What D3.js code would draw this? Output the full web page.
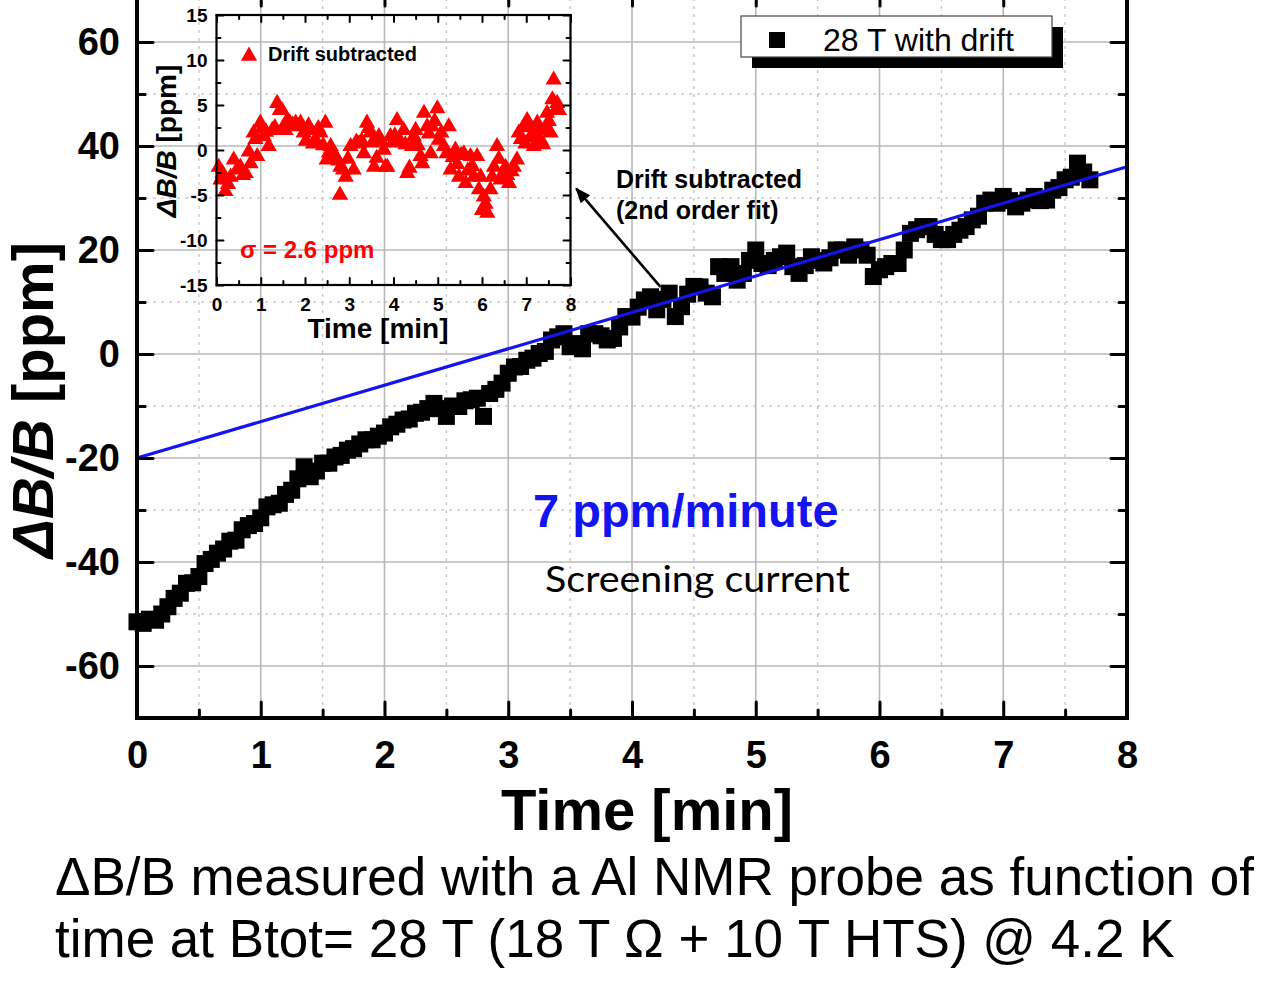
<!DOCTYPE html>
<html>
<head>
<meta charset="utf-8">
<script src="https://cdn.jsdelivr.net/npm/d3@7"></script>
<style>
  body { margin: 0; background: #fff; }
  svg { display: block; font-family: "Liberation Sans", Arial, sans-serif; }
</style>
</head>
<body>
<div id="chart"></div>
<script>
// main series: 28 T with drift
const timeMin = [
  0.00, 0.05, 0.10, 0.15, 0.20, 0.25, 0.30, 0.35, 0.40, 0.45, 0.50, 0.55, 0.60, 0.65, 0.70, 0.75, 0.80, 0.85, 0.90, 0.95,
  1.00, 1.05, 1.10, 1.15, 1.20, 1.25, 1.30, 1.35, 1.40, 1.45, 1.50, 1.55, 1.60, 1.65, 1.70, 1.75, 1.80, 1.85, 1.90, 1.95,
  2.00, 2.05, 2.10, 2.15, 2.20, 2.25, 2.30, 2.35, 2.40, 2.45, 2.50, 2.55, 2.60, 2.65, 2.70, 2.75, 2.80, 2.85, 2.90, 2.95,
  3.00, 3.05, 3.10, 3.15, 3.20, 3.25, 3.30, 3.35, 3.40, 3.45, 3.50, 3.55, 3.60, 3.65, 3.70, 3.75, 3.80, 3.85, 3.90, 3.95,
  4.00, 4.05, 4.10, 4.15, 4.20, 4.25, 4.30, 4.35, 4.40, 4.45, 4.50, 4.55, 4.60, 4.65, 4.70, 4.75, 4.80, 4.85, 4.90, 4.95,
  5.00, 5.05, 5.10, 5.15, 5.20, 5.25, 5.30, 5.35, 5.40, 5.45, 5.50, 5.55, 5.60, 5.65, 5.70, 5.75, 5.80, 5.85, 5.90, 5.95,
  6.00, 6.05, 6.10, 6.15, 6.20, 6.25, 6.30, 6.35, 6.40, 6.45, 6.50, 6.55, 6.60, 6.65, 6.70, 6.75, 6.80, 6.85, 6.90, 6.95,
  7.00, 7.05, 7.10, 7.15, 7.20, 7.25, 7.30, 7.35, 7.40, 7.45, 7.50, 7.55, 7.60, 7.65, 7.70
];
const withDrift = [
  -51.5, -51.8, -51.0, -51.2, -50.0, -48.6, -47.0, -46.0, -44.1, -44.0, -42.8, -40.3, -39.5, -38.3, -37.5, -36.0, -35.8, -33.8, -33.0, -32.6,
  -31.5, -29.4, -29.0, -28.7, -27.0, -26.2, -24.0, -21.7, -23.6, -22.5, -21.0, -21.0, -19.8, -19.5, -18.5, -18.2, -17.3, -16.5, -16.5, -15.8,
  -15.2, -14.0, -13.5, -12.7, -12.5, -11.4, -11.2, -10.5, -9.5, -10.5, -12.0, -10.0, -10.1, -9.0, -8.8, -8.5, -12.0, -7.6, -6.8, -5.6,
  -3.7, -2.5, -2.4, -1.2, -0.8, 0.1, 0.5, 2.7, 3.3, 3.9, 1.4, 2.0, 1.0, 3.9, 3.9, 3.5, 2.7, 3.0, 5.2, 7.2,
  7.1, 9.0, 10.4, 11.0, 8.5, 10.5, 11.7, 7.2, 9.1, 11.5, 13.0, 12.9, 11.7, 11.0, 16.8, 15.5, 16.8, 14.2, 15.5, 18.0,
  20.0, 17.4, 17.0, 18.0, 18.7, 19.4, 16.8, 15.5, 17.0, 18.7, 18.0, 17.5, 18.5, 20.0, 20.0, 19.0, 20.6, 20.0, 19.0, 14.9,
  16.2, 16.8, 17.4, 17.4, 20.0, 23.2, 23.9, 24.5, 24.5, 23.0, 22.0, 22.0, 23.0, 23.8, 24.5, 25.8, 26.5, 29.0, 29.6, 29.0,
  30.3, 29.5, 28.3, 29.0, 29.6, 30.3, 29.5, 29.6, 31.5, 32.0, 33.5, 34.0, 36.7, 35.0, 33.5
];

// linear drift fit: 7 ppm/minute
const fitTime = [0, 8];
const fitValue = [-20, 36];

// inset series: drift subtracted
const insetTime = [
  0.05, 0.09, 0.14, 0.20, 0.26, 0.32, 0.39, 0.46, 0.54, 0.60, 0.66, 0.73, 0.77, 0.84, 0.88, 0.92, 0.99,
  1.03, 1.07, 1.12, 1.18, 1.26, 1.32, 1.37, 1.43, 1.48, 1.52, 1.56, 1.60, 1.66, 1.72, 1.79, 1.85, 1.90, 1.97,
  2.02, 2.08, 2.12, 2.18, 2.24, 2.30, 2.35, 2.41, 2.46, 2.49, 2.54, 2.58, 2.64, 2.69, 2.75, 2.80, 2.79, 2.86, 2.92, 2.97,
  3.03, 3.10, 3.16, 3.22, 3.28, 3.33, 3.40, 3.44, 3.48, 3.52, 3.56, 3.62, 3.67, 3.73, 3.78, 3.82, 3.86, 3.93, 3.98,
  4.03, 4.08, 4.10, 4.16, 4.23, 4.27, 4.31, 4.36, 4.42, 4.46, 4.50, 4.55, 4.61, 4.65, 4.69, 4.76, 4.80, 4.84, 4.87, 4.93, 4.99,
  5.02, 5.08, 5.14, 5.20, 5.25, 5.29, 5.34, 5.40, 5.44, 5.48, 5.53, 5.59, 5.63, 5.68, 5.74, 5.78, 5.82, 5.89, 5.93, 5.97,
  6.00, 6.04, 6.08, 6.12, 6.19, 6.23, 6.27, 6.34, 6.38, 6.42, 6.48, 6.53, 6.57, 6.61, 6.67, 6.72, 6.79, 6.83, 6.88, 6.95, 6.98,
  7.02, 7.06, 7.10, 7.17, 7.21, 7.25, 7.29, 7.33, 7.38, 7.44, 7.47, 7.51, 7.55, 7.59, 7.62, 7.66, 7.70, 7.74
];
const insetValue = [
  -1.9, -3.3, -2.6, -4.6, -3.8, -3.0, -1.1, -2.2, -1.9, -2.8, -2.6, -0.2, -1.5, 1.9, 1.2, -0.7, 3.0,
  2.4, 1.5, 2.0, 0.4, 2.2, 2.5, 5.2, 4.4, 4.4, 2.6, 2.2, 3.3, 3.0, 2.8, 3.0, 2.6, 3.0, 1.9,
  1.0, 2.7, 2.2, 0.7, 1.1, 2.4, 1.9, 0.5, 3.0, -1.1, -0.3, 0.4, -0.4, -0.7, -1.2, -1.9, -5.0, -2.2, -3.0, -1.0,
  0.4, -2.2, 0.9, 0.7, 1.0, -0.4, 3.0, 2.4, 1.9, 0.8, -1.9, -0.9, 1.5, 0.9, 0.0, -1.9, -1.9, 1.5, 0.8,
  1.6, 3.3, 1.1, 0.9, 2.2, 0.6, -2.6, -2.0, 0.4, 1.5, 2.2, 0.5, -0.7, -1.5, 4.1, 2.6, 1.8, -0.4, 2.6, 3.2, 4.6,
  1.1, 1.9, 0.4, -0.4, 2.6, -2.2, -0.8, 0.0, -1.6, -3.0, -0.6, -0.4, -3.7, -2.3, -0.7, -1.8, -3.0, -0.7, -4.4, -3.0,
  -6.7, -5.2, -6.0, -7.0, -4.4, -3.0, -1.9, 0.4, -1.0, -3.3, -2.5, -1.9, -2.8, -3.7, -2.4, -1.9, -1.1, 1.9, 1.2, 2.6, 0.7,
  3.3, 2.5, 1.5, 0.4, 1.4, 3.0, 2.2, 1.1, 0.6, 2.2, 4.1, 3.2, 1.9, 5.6, 7.8, 4.4, 5.2, 4.4
];

// ticks
const mainXTicks = [0, 1, 2, 3, 4, 5, 6, 7, 8];
const mainXMinor = [0.5, 1.5, 2.5, 3.5, 4.5, 5.5, 6.5, 7.5];
const mainYTicks = [-60, -40, -20, 0, 20, 40, 60];
const mainYMinor = [-70, -50, -30, -10, 10, 30, 50, 70];
const insetXTicks = [0, 1, 2, 3, 4, 5, 6, 7, 8];
const insetXMinor = [0.5, 1.5, 2.5, 3.5, 4.5, 5.5, 6.5, 7.5];
const insetYTicks = [-15, -10, -5, 0, 5, 10, 15];
const insetYMinor = [-12.5, -7.5, -2.5, 2.5, 7.5, 12.5];

const svg = d3.select("#chart")
    .append("svg")
    .attr("width", 1272)
    .attr("height", 992);

const x = d3.scaleLinear().domain([0, 8]).range([137, 1127]);
const y = d3.scaleLinear().domain([-70, 70]).range([718, -10]);

// grid
const grid = svg.append("g");
grid.selectAll(".gxm").data(mainXTicks.slice(1, -1)).enter().append("line")
    .attr("x1", d => x(d)).attr("x2", d => x(d)).attr("y1", y(70)).attr("y2", y(-70))
    .attr("stroke", "#b8b8b8").attr("stroke-width", 1.6);
grid.selectAll(".gxn").data(mainXMinor).enter().append("line")
    .attr("x1", d => x(d)).attr("x2", d => x(d)).attr("y1", y(70)).attr("y2", y(-70))
    .attr("stroke", "#cacaca").attr("stroke-width", 1.4).attr("stroke-dasharray", "3,5");
grid.selectAll(".gym").data(mainYTicks).enter().append("line")
    .attr("x1", x(0)).attr("x2", x(8)).attr("y1", d => y(d)).attr("y2", d => y(d))
    .attr("stroke", "#b8b8b8").attr("stroke-width", 1.6);
grid.selectAll(".gyn").data(mainYMinor.slice(1, -1)).enter().append("line")
    .attr("x1", x(0)).attr("x2", x(8)).attr("y1", d => y(d)).attr("y2", d => y(d))
    .attr("stroke", "#cacaca").attr("stroke-width", 1.4).attr("stroke-dasharray", "3,5");

// data squares
svg.append("g").selectAll("rect")
    .data(timeMin.map((t, i) => ({ t: t, v: withDrift[i] })))
    .enter().append("rect")
    .attr("x", d => x(d.t) - 8.5)
    .attr("y", d => y(d.v) - 8.5)
    .attr("width", 17).attr("height", 17)
    .attr("fill", "#000");

// fit line
svg.append("path")
    .datum(fitTime.map((t, i) => [t, fitValue[i]]))
    .attr("fill", "none")
    .attr("stroke", "#1414f0")
    .attr("stroke-width", 3.2)
    .attr("d", d3.line().x(d => x(d[0])).y(d => y(d[1])));

// axes
function styleTicks(g, w) {
    g.select(".domain").remove();
    g.selectAll(".tick line").attr("stroke", "#000").attr("stroke-width", w).attr("stroke-linecap", "round");
    g.selectAll("text").attr("fill", "#000");
}
const labelFont = g => g.selectAll("text").style("font-size", "38px").style("font-weight", "bold");

svg.append("g").attr("transform", `translate(0,${y(-70)})`)
    .call(d3.axisBottom(x).tickValues(mainXMinor).tickSize(-8).tickFormat(""))
    .call(g => styleTicks(g, 3));
svg.append("g").attr("transform", `translate(0,${y(-70)})`)
    .call(d3.axisBottom(x).tickValues(mainXTicks).tickSize(-16).tickPadding(23).tickFormat(d => String(d)))
    .call(g => styleTicks(g, 3)).call(labelFont);
svg.append("g").attr("transform", `translate(0,${y(70)})`)
    .call(d3.axisTop(x).tickValues(mainXMinor).tickSize(-8).tickFormat(""))
    .call(g => styleTicks(g, 3));
svg.append("g").attr("transform", `translate(0,${y(70)})`)
    .call(d3.axisTop(x).tickValues(mainXTicks).tickSize(-16).tickFormat(""))
    .call(g => styleTicks(g, 3));
svg.append("g").attr("transform", `translate(${x(0)},0)`)
    .call(d3.axisLeft(y).tickValues(mainYMinor).tickSize(-8).tickFormat(""))
    .call(g => styleTicks(g, 3));
svg.append("g").attr("transform", `translate(${x(0)},0)`)
    .call(d3.axisLeft(y).tickValues(mainYTicks).tickSize(-16).tickPadding(17).tickFormat(d => String(d)))
    .call(g => styleTicks(g, 3)).call(labelFont);
svg.append("g").attr("transform", `translate(${x(8)},0)`)
    .call(d3.axisRight(y).tickValues(mainYMinor).tickSize(-8).tickFormat(""))
    .call(g => styleTicks(g, 3));
svg.append("g").attr("transform", `translate(${x(8)},0)`)
    .call(d3.axisRight(y).tickValues(mainYTicks).tickSize(-16).tickFormat(""))
    .call(g => styleTicks(g, 3));

svg.append("rect")
    .attr("x", x(0)).attr("y", y(70))
    .attr("width", x(8) - x(0)).attr("height", y(-70) - y(70))
    .attr("fill", "none").attr("stroke", "#000").attr("stroke-width", 4);

// axis titles
svg.append("text")
    .attr("x", 647).attr("y", 830)
    .attr("text-anchor", "middle")
    .style("font-size", "58px").style("font-weight", "bold")
    .text("Time [min]");

const yTitle = svg.append("text")
    .attr("transform", "translate(53,400) rotate(-90)")
    .attr("text-anchor", "middle")
    .style("font-size", "58px").style("font-weight", "bold");
yTitle.append("tspan").style("font-style", "italic").text("ΔB/B");
yTitle.append("tspan").text(" [ppm]");

// legend
const legend = svg.append("g");
legend.append("rect").attr("x", 752).attr("y", 27).attr("width", 311).attr("height", 41).attr("fill", "#000");
legend.append("rect").attr("x", 741).attr("y", 16).attr("width", 311).attr("height", 41)
    .attr("fill", "#fff").attr("stroke", "#444").attr("stroke-width", 1.2);
legend.append("rect").attr("x", 769).attr("y", 32).attr("width", 16).attr("height", 16).attr("fill", "#000");
legend.append("text").attr("x", 823).attr("y", 51)
    .style("font-size", "32px")
    .text("28 T with drift");

// inset
const ix = d3.scaleLinear().domain([0, 8]).range([216.5, 570.5]);
const iy = d3.scaleLinear().domain([-15, 15]).range([285, 15]);
const inset = svg.append("g");

inset.append("g").selectAll("path")
    .data(insetTime.map((t, i) => ({ t: t, v: insetValue[i] })))
    .enter().append("path")
    .attr("transform", d => `translate(${ix(d.t)},${iy(d.v)})`)
    .attr("d", d3.symbol(d3.symbolTriangle).size(115))
    .attr("fill", "#ff0000");

const insetFont = g => g.selectAll("text").style("font-size", "19px").style("font-weight", "bold");
inset.append("g").attr("transform", `translate(0,${iy(-15)})`)
    .call(d3.axisBottom(ix).tickValues(insetXMinor).tickSize(-4).tickFormat(""))
    .call(g => styleTicks(g, 2));
inset.append("g").attr("transform", `translate(0,${iy(-15)})`)
    .call(d3.axisBottom(ix).tickValues(insetXTicks).tickSize(-7).tickPadding(13).tickFormat(d => String(d)))
    .call(g => styleTicks(g, 2)).call(insetFont);
inset.append("g").attr("transform", `translate(0,${iy(15)})`)
    .call(d3.axisTop(ix).tickValues(insetXMinor).tickSize(-4).tickFormat(""))
    .call(g => styleTicks(g, 2));
inset.append("g").attr("transform", `translate(0,${iy(15)})`)
    .call(d3.axisTop(ix).tickValues(insetXTicks).tickSize(-7).tickFormat(""))
    .call(g => styleTicks(g, 2));
inset.append("g").attr("transform", `translate(${ix(0)},0)`)
    .call(d3.axisLeft(iy).tickValues(insetYMinor).tickSize(-4).tickFormat(""))
    .call(g => styleTicks(g, 2));
inset.append("g").attr("transform", `translate(${ix(0)},0)`)
    .call(d3.axisLeft(iy).tickValues(insetYTicks).tickSize(-7).tickPadding(9).tickFormat(d => String(d)))
    .call(g => styleTicks(g, 2)).call(insetFont);
inset.append("g").attr("transform", `translate(${ix(8)},0)`)
    .call(d3.axisRight(iy).tickValues(insetYMinor).tickSize(-4).tickFormat(""))
    .call(g => styleTicks(g, 2));
inset.append("g").attr("transform", `translate(${ix(8)},0)`)
    .call(d3.axisRight(iy).tickValues(insetYTicks).tickSize(-7).tickFormat(""))
    .call(g => styleTicks(g, 2));

inset.append("rect")
    .attr("x", ix(0)).attr("y", iy(15))
    .attr("width", ix(8) - ix(0)).attr("height", iy(-15) - iy(15))
    .attr("fill", "none").attr("stroke", "#000").attr("stroke-width", 2.2);

inset.append("text")
    .attr("x", 378).attr("y", 338)
    .attr("text-anchor", "middle")
    .style("font-size", "28px").style("font-weight", "bold")
    .text("Time [min]");

const iyTitle = inset.append("text")
    .attr("transform", "translate(176,141) rotate(-90)")
    .attr("text-anchor", "middle")
    .style("font-size", "28px").style("font-weight", "bold");
iyTitle.append("tspan").style("font-style", "italic").text("ΔB/B");
iyTitle.append("tspan").text(" [ppm]");

inset.append("path")
    .attr("transform", "translate(249,56)")
    .attr("d", d3.symbol(d3.symbolTriangle).size(115))
    .attr("fill", "#ff0000");
inset.append("text").attr("x", 268).attr("y", 61)
    .style("font-size", "20px").style("font-weight", "bold")
    .text("Drift subtracted");
inset.append("text").attr("x", 240).attr("y", 258)
    .attr("fill", "#ff0000")
    .style("font-size", "24px").style("font-weight", "bold")
    .text("σ = 2.6 ppm");

// annotation arrow
svg.append("defs").append("marker")
    .attr("id", "arrow")
    .attr("viewBox", "0 0 10 10")
    .attr("refX", 9).attr("refY", 5)
    .attr("markerWidth", 6).attr("markerHeight", 6)
    .attr("markerUnits", "strokeWidth")
    .attr("orient", "auto")
    .append("path").attr("d", "M0,1 L10,5 L0,9 z").attr("fill", "#000");
svg.append("line")
    .attr("x1", x(4.23)).attr("y1", y(12.9))
    .attr("x2", x(3.55)).attr("y2", y(31.8))
    .attr("stroke", "#000").attr("stroke-width", 2.6)
    .attr("marker-end", "url(#arrow)");

svg.append("text").attr("x", 616).attr("y", 188)
    .style("font-size", "25px").style("font-weight", "bold")
    .text("Drift subtracted");
svg.append("text").attr("x", 616).attr("y", 219)
    .style("font-size", "25px").style("font-weight", "bold")
    .text("(2nd order fit)");

svg.append("text").attr("x", 533).attr("y", 527)
    .attr("fill", "#1414f0")
    .style("font-size", "47px").style("font-weight", "bold")
    .text("7 ppm/minute");
svg.append("text").attr("x", 545).attr("y", 592)
    .attr("textLength", 305).attr("lengthAdjust", "spacingAndGlyphs")
    .style("font-family", "Lato, 'Open Sans', sans-serif")
    .style("font-size", "37px")
    .text("Screening current");

// caption
svg.append("text").attr("x", 55).attr("y", 895)
    .style("font-size", "53px")
    .text("ΔB/B measured with a Al NMR probe as function of");
svg.append("text").attr("x", 55).attr("y", 957)
    .style("font-size", "53px")
    .text("time at Btot= 28 T (18 T Ω + 10 T HTS) @ 4.2 K");
</script>
</body>
</html>
